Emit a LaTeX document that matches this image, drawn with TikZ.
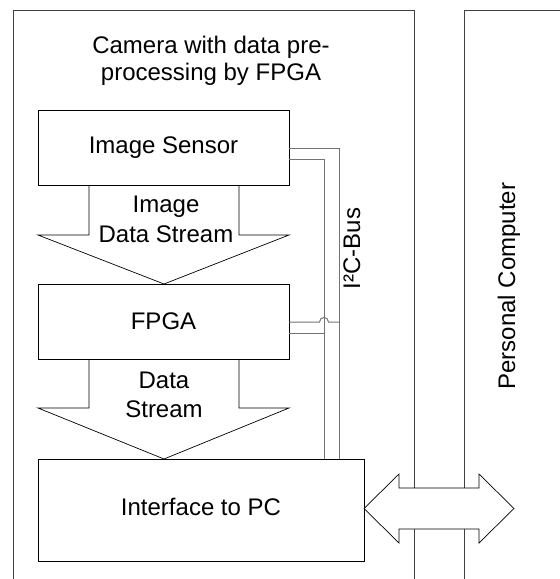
\documentclass[tikz,border=0pt]{standalone}
\usepackage{fontspec}
\setmainfont{Liberation Sans}
\begin{document}
\begin{tikzpicture}[x=1pt,y=-1pt,
  box/.style={draw=black,line width=0.9pt,fill=white,inner sep=0pt,font=\fontsize{24}{27}\selectfont},
  flowarrow/.style={draw=black,line width=0.7pt,fill=white,line join=miter},
  frameline/.style={draw=black!75,line width=1pt},
  busline/.style={draw=black!55,line width=1pt},
  lbl/.style={inner sep=0pt,font=\fontsize{24}{27}\selectfont}]
\useasboundingbox (0,0) rectangle (560,579);
% outer frames
\draw[frameline] (13,579) -- (13,10) -- (414,10) -- (414,579);
\draw[frameline] (464,579) -- (464,10) -- (562,10);
% flow arrows
\draw[flowarrow] (89,185) -- (89,235) -- (38,235) -- (164,284) -- (289,235) -- (239,235) -- (239,185);
\draw[flowarrow] (89,359) -- (89,408) -- (38,408) -- (164,459) -- (289,408) -- (239,408) -- (239,359);
% boxes
\node[box,minimum width=251pt,minimum height=75pt] (sensor) at (163.5,147.5) {Image Sensor};
\node[box,minimum width=251pt,minimum height=75pt] (fpga) at (163.5,321.5) {FPGA};
\node[box,minimum width=326pt,minimum height=102pt,text depth=5.5pt] (iface) at (201,510) {Interface to PC};
% bus
\coordinate (b1) at (339,459);
\coordinate (b2) at (324,459);
\draw[busline] (sensor.east |- 0,148) -- (339,148) -- (b1);
\draw[busline] (sensor.east |- 0,159) -- (324,159) -- (b2);
\draw[busline] (fpga.east |- 0,322) -- (319.5,322) .. controls (319.5,316) and (328.5,316) .. (328.5,322) -- (339,322);
\draw[busline] (fpga.east |- 0,333) -- (324,333);
% double arrow
\draw[flowarrow] (364,508.5) -- (399,474) -- (399,488) -- (479,488) -- (479,474) -- (514,508.5) -- (479,543) -- (479,529) -- (399,529) -- (399,543) -- cycle;
% labels
\node[lbl,anchor=north,align=center] (title) at (211,35.8) {Camera with data pre-\\processing by FPGA};
\node[lbl,anchor=north,align=center,font=\fontsize{24}{30}\selectfont] (ids) at (166,196) {Image\\Data Stream};
\node[lbl,anchor=north,align=center,font=\fontsize{24}{29}\selectfont] (ds) at (164,371.8) {Data\\Stream};
\node[lbl,anchor=base,rotate=90] (bus) at (360,248.5) {I²C-Bus};
\node[lbl,anchor=base,rotate=90] (pc) at (515,286) {Personal Computer};
\end{tikzpicture}
\end{document}
